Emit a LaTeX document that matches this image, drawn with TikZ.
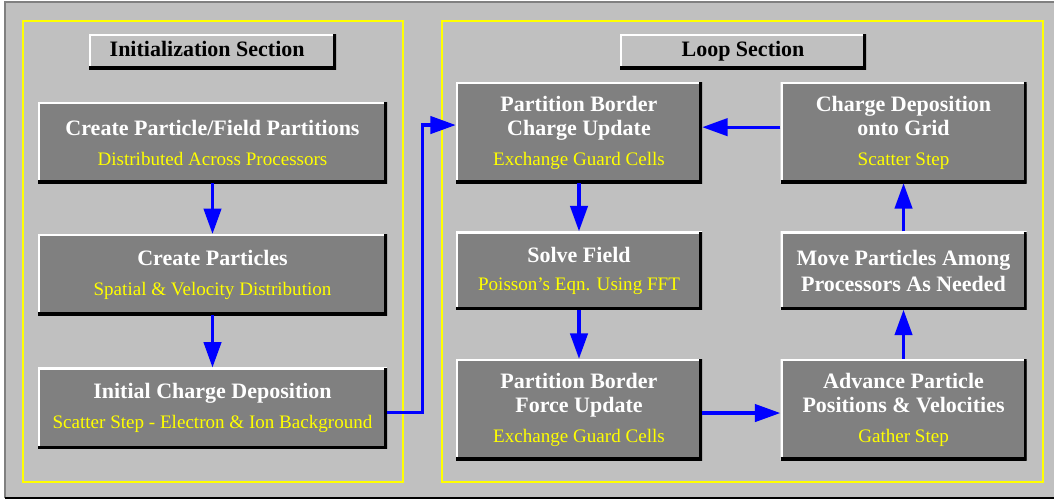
\documentclass[tikz,border=0pt]{standalone}
\usepackage{fontspec}
\setmainfont{Liberation Serif}
\usepackage{xcolor}
\usetikzlibrary{arrows.meta, positioning}
\definecolor{panelgray}{HTML}{C0C0C0}
\definecolor{boxgray}{HTML}{808080}
\definecolor{subyellow}{HTML}{FFFF00}
\definecolor{flowblue}{HTML}{0000FF}
\newcommand{\subline}[1]{{\color{subyellow}\mdseries\fontsize{14.3}{18}\selectfont #1}}
\tikzset{
  bevel/.style={
    path picture={
      \draw[white, line width=3pt] (path picture bounding box.south west) |- (path picture bounding box.north east);
      \draw[black, line width=4.5pt] (path picture bounding box.south west) -| (path picture bounding box.north east);
    }},
  stage/.style={bevel, rectangle, fill=boxgray, text=white, align=center, inner sep=0pt,
    font=\fontsize{16.5}{18}\selectfont\bfseries, minimum width=184.5pt},
  initstage/.style={stage, minimum width=261.75pt, minimum height=60.75pt},
  head/.style={bevel, rectangle, fill=panelgray, text=black, inner sep=0pt,
    font=\fontsize{16.5}{18}\selectfont\bfseries, text height=11.5pt, text depth=3.5pt,
    minimum height=26.25pt},
  sectionframe/.style={draw=subyellow, line width=0.8pt},
  flow/.style={-{Triangle[length=19pt, width=13pt]}, draw=flowblue, line width=2.4pt},
}
\begin{document}
\begin{tikzpicture}[x=0.75pt, y=-0.75pt]
\useasboundingbox (0,0) rectangle (1054,501);
\clip (0,0) rectangle (1054,501);

% ---- outer panel ----
\fill[white] (0,0) rectangle (1054,501);
\fill[panelgray] (5,2) rectangle (1060,498);
\draw[boxgray, line width=1.5pt] (5,498) |- (1060,2);
\draw[black, line width=1.5pt] (5,498) -- (1060,498);

% ---- section frames ----
\draw[sectionframe] (23,21) rectangle (403,482);
\draw[sectionframe] (442,21) rectangle (1043,482);

\node[head, minimum width=185.25pt] (inithead) at (212.5,51.5) {Initialization Section\hspace*{8pt}};
\node[head, minimum width=184.5pt] (loophead) at (743,51.5) {Loop Section};

% ---- initialization column ----
\node[initstage] (cpf) at (212.5,142.5) {Create Particle/Field Partitions\\[4.5pt]\subline{Distributed Across Processors}};
\node[initstage, below=38pt of cpf] (cp) {Create Particles\\[4.5pt]\subline{Spatial \& Velocity Distribution}};
\node[initstage, below=39pt of cp] (icd) {Initial Charge Deposition\\[4.5pt]\subline{Scatter Step - Electron \& Ion Background}};

\draw[flow] (cpf) -- (cp);
\draw[flow] (cp) -- (icd);

% ---- loop section ----
\node[stage, minimum height=75.75pt] (pbc) at (579,132.5) {Partition Border\\Charge Update\\[4.5pt]\subline{Exchange Guard Cells}};
\node[stage, minimum height=58.5pt, below=36pt of pbc] (solve) {Solve Field\\[3pt]\subline{Poisson's Eqn. Using FFT}};
\node[stage, minimum height=75.75pt, below=36.75pt of solve] (pbf) {Partition Border\\Force Update\\[4.5pt]\subline{Exchange Guard Cells}};
\node[stage, minimum height=75.75pt, right=58.5pt of pbc] (cdg) {Charge Deposition\\onto Grid\\[4.5pt]\subline{Scatter Step}};
\node[stage, minimum height=58.5pt, right=58.5pt of solve] (move) {Move Particles Among\\[1.5pt]Processors As Needed};
\node[stage, minimum height=75.75pt, right=58.5pt of pbf] (adv) {Advance Particle\\Positions \& Velocities\\[4.5pt]\subline{Gather Step}};

\draw[flow] ([yshift=-3.4pt]icd.east) -- ++(26.25pt,0) |- ([yshift=5.6pt]pbc.west);
\draw[flow] (pbc) -- (solve);
\draw[flow] (solve) -- (pbf);
\draw[flow] ([yshift=-2.6pt]pbf.east) -- ([yshift=-2.6pt]adv.west);
\draw[flow] (adv) -- (move);
\draw[flow] (move) -- (cdg);
\draw[flow] ([yshift=4pt]cdg.west) -- ([yshift=4pt]pbc.east);

\end{tikzpicture}
\end{document}
